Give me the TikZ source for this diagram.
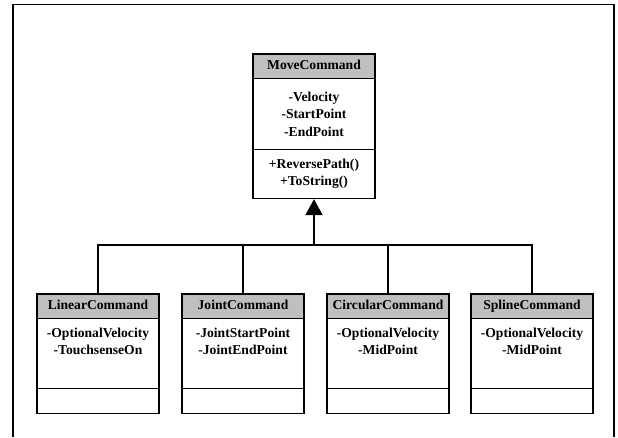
\documentclass[tikz,border=0pt]{standalone}
\usepackage{fontspec}
\setmainfont{Liberation Serif}
\usetikzlibrary{arrows.meta}
\tikzset{
  umlfont/.style={font=\bfseries\fontsize{13.6}{17.5}\selectfont},
  hdr/.style={draw, line width=1.4pt, fill=black!25, minimum width=122pt, minimum height=24.5pt, inner sep=0pt, outer sep=0pt, text height=9.2pt, text depth=2.8pt, anchor=north west, umlfont},
  comp/.style={draw, line width=1.4pt, fill=white, minimum width=122pt, inner sep=0pt, outer sep=0pt, anchor=north west, align=center, umlfont},
  txt/.style={inner sep=0pt, align=center, umlfont},
  conn/.style={line width=2.2pt},
  frame/.style={line width=1.3pt}
}
\begin{document}
\begin{tikzpicture}[x=1pt,y=1pt]
\useasboundingbox (0,0) rectangle (618,437);
\coordinate (fbl) at (13,0);
\coordinate (ftl) at (13,432.5);
\coordinate (ftr) at (614,432.5);
\coordinate (fbr) at (614,0);
\draw[frame] (fbl) -- (ftl) -- (ftr) -- (fbr);

% MoveCommand
\node[hdr] (mvh) at (253,383) {MoveCommand};
\node[comp, minimum height=71pt] (mva) at (mvh.south west) {-Velocity\\-StartPoint\\-EndPoint};
\node[comp, minimum height=49pt] (mvm) at (mva.south west) {+ReversePath()\\+ToString()};

% children
\node[hdr] (linh) at (37,143) {LinearCommand};
\node[comp, minimum height=70pt] (lina) at (linh.south west) {};
\node[comp, minimum height=25pt] (linm) at (lina.south west) {};
\node[txt] (lint) at ([yshift=-23pt]lina.north) {-OptionalVelocity\\-TouchsenseOn};

\node[hdr] (joih) at (182,143) {JointCommand};
\node[comp, minimum height=70pt] (joia) at (joih.south west) {};
\node[comp, minimum height=25pt] (joim) at (joia.south west) {};
\node[txt] (joit) at ([yshift=-23pt]joia.north) {-JointStartPoint\\-JointEndPoint};

\node[hdr] (cirh) at (327,143) {CircularCommand};
\node[comp, minimum height=70pt] (cira) at (cirh.south west) {};
\node[comp, minimum height=25pt] (cirm) at (cira.south west) {};
\node[txt] (cirt) at ([yshift=-23pt]cira.north) {-OptionalVelocity\\-MidPoint};

\node[hdr] (splh) at (471,143) {SplineCommand};
\node[comp, minimum height=70pt] (spla) at (splh.south west) {};
\node[comp, minimum height=25pt] (splm) at (spla.south west) {};
\node[txt] (splt) at ([yshift=-23pt]spla.north) {-OptionalVelocity\\-MidPoint};

% connectors
\coordinate (bus) at (314,192);
\draw[conn] (linh.north) -- (linh.north |- bus) -- (splh.north |- bus) -- (splh.north);
\draw[conn] (joih.north) -- (joih.north |- bus);
\draw[conn] (cirh.north) -- (cirh.north |- bus);
\draw[conn, -{Triangle[length=16pt,width=17pt]}] (mvm.south |- bus) -- ([yshift=-0.7pt]mvm.south);
\end{tikzpicture}
\end{document}
